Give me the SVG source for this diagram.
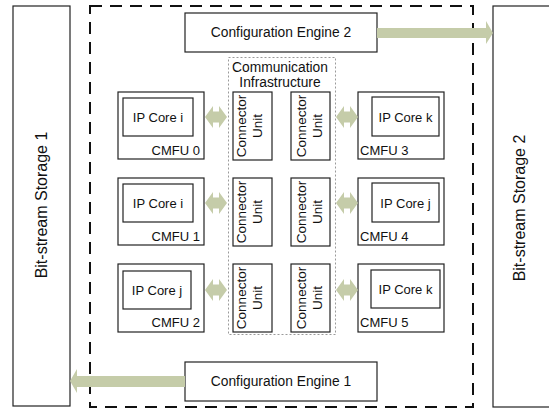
<svg xmlns="http://www.w3.org/2000/svg" width="549" height="409" viewBox="0 0 549 409">
  <defs>
    <style>
      .box { fill: #fff; stroke: #222; stroke-width: 1.2; }
      .frame { fill: none; stroke: #111; stroke-width: 2; stroke-dasharray: 12 8; }
      .infra { fill: none; stroke: #9a9a9a; stroke-width: 1; stroke-dasharray: 2 2; }
      .flow { fill: #c5cca9; stroke: none; }
      text { font-family: "Liberation Sans", Arial, sans-serif; fill: #111; }
      .t13 { font-size: 13px; }
      .cu { font-size: 13.5px; text-anchor: middle; }
      .t14 { font-size: 13.8px; }
      .t16 { font-size: 16px; }
      .mid { text-anchor: middle; }
    </style>
    <!-- double-headed link between a CMFU and its connector unit, centred at origin -->
    <path id="dbl" class="flow" d="M-11,0 L-3,-11 L-3,-5.5 L3,-5.5 L3,-11 L11,0 L3,11 L3,5.5 L-3,5.5 L-3,11 Z"/>
  </defs>

  <rect width="549" height="409" fill="#fff"/>

  <!-- bit-stream storages -->
  <g id="storage1">
    <rect class="box" x="13" y="6" width="57" height="400"/>
    <text class="t16 mid" transform="translate(47,205) rotate(-90)">Bit-stream Storage 1</text>
  </g>
  <g id="storage2">
    <rect class="box" x="493" y="6" width="60" height="401"/>
    <text class="t16 mid" transform="translate(525,208) rotate(-90)">Bit-stream Storage 2</text>
  </g>

  <!-- reconfigurable region -->
  <rect id="region" class="frame" x="90" y="6" width="383" height="401"/>

  <!-- communication infrastructure -->
  <g id="infra">
    <rect class="infra" x="228.5" y="57.5" width="107" height="277"/>
    <text class="t14 mid" x="280" y="72">Communication</text>
    <text class="t14 mid" x="280" y="87">Infrastructure</text>
  </g>

  <!-- configuration engines -->
  <g id="engine2">
    <rect class="box" x="185" y="13" width="192" height="39"/>
    <text class="t14 mid" x="281" y="37">Configuration Engine 2</text>
  </g>
  <g id="engine1">
    <rect class="box" x="185" y="362" width="192" height="39"/>
    <text class="t14 mid" x="281" y="386">Configuration Engine 1</text>
  </g>

  <!-- CMFUs, left column -->
  <g id="cmfu0">
    <rect class="box" x="118" y="92" width="86" height="67"/>
    <rect class="box" x="123" y="98" width="70" height="38"/>
    <text class="t13 mid" x="158" y="122">IP Core i</text>
    <text class="t13" x="200" y="155" text-anchor="end">CMFU 0</text>
  </g>
  <g id="cmfu1">
    <rect class="box" x="118" y="178" width="86" height="67"/>
    <rect class="box" x="123" y="184" width="70" height="38"/>
    <text class="t13 mid" x="158" y="208">IP Core i</text>
    <text class="t13" x="200" y="241" text-anchor="end">CMFU 1</text>
  </g>
  <g id="cmfu2">
    <rect class="box" x="118" y="264" width="86" height="68"/>
    <rect class="box" x="123" y="271" width="68" height="38"/>
    <text class="t13 mid" x="157" y="295">IP Core j</text>
    <text class="t13" x="200" y="327" text-anchor="end">CMFU 2</text>
  </g>

  <!-- CMFUs, right column -->
  <g id="cmfu3">
    <rect class="box" x="358" y="92" width="86" height="67"/>
    <rect class="box" x="372" y="97" width="67" height="39"/>
    <text class="t13 mid" x="405.5" y="122">IP Core k</text>
    <text class="t13" x="360" y="155">CMFU 3</text>
  </g>
  <g id="cmfu4">
    <rect class="box" x="358" y="178" width="86" height="67"/>
    <rect class="box" x="372" y="183" width="67" height="39"/>
    <text class="t13 mid" x="405.5" y="208">IP Core j</text>
    <text class="t13" x="360" y="241">CMFU 4</text>
  </g>
  <g id="cmfu5">
    <rect class="box" x="358" y="264" width="86" height="68"/>
    <rect class="box" x="371" y="270" width="69" height="38"/>
    <text class="t13 mid" x="405.5" y="294">IP Core k</text>
    <text class="t13" x="360" y="327">CMFU 5</text>
  </g>

  <!-- connector units -->
  <g id="cu0">
    <rect class="box" x="233" y="92" width="39" height="68"/>
    <text class="cu" transform="translate(246,126) rotate(-90)">Connector</text>
    <text class="cu" transform="translate(262,126) rotate(-90)">Unit</text>
  </g>
  <g id="cu1">
    <rect class="box" x="233" y="178" width="39" height="68"/>
    <text class="cu" transform="translate(246,212) rotate(-90)">Connector</text>
    <text class="cu" transform="translate(262,212) rotate(-90)">Unit</text>
  </g>
  <g id="cu2">
    <rect class="box" x="233" y="264" width="39" height="68"/>
    <text class="cu" transform="translate(246,298) rotate(-90)">Connector</text>
    <text class="cu" transform="translate(262,298) rotate(-90)">Unit</text>
  </g>
  <g id="cu3">
    <rect class="box" x="291" y="92" width="39" height="68"/>
    <text class="cu" transform="translate(306,126) rotate(-90)">Connector</text>
    <text class="cu" transform="translate(321.5,126) rotate(-90)">Unit</text>
  </g>
  <g id="cu4">
    <rect class="box" x="291" y="178" width="39" height="68"/>
    <text class="cu" transform="translate(306,212) rotate(-90)">Connector</text>
    <text class="cu" transform="translate(321.5,212) rotate(-90)">Unit</text>
  </g>
  <g id="cu5">
    <rect class="box" x="291" y="264" width="39" height="68"/>
    <text class="cu" transform="translate(306,298) rotate(-90)">Connector</text>
    <text class="cu" transform="translate(321.5,298) rotate(-90)">Unit</text>
  </g>

  <!-- connectors -->
  <g id="connectors">
    <use href="#dbl" x="216" y="117"/>
    <use href="#dbl" x="216" y="203"/>
    <use href="#dbl" x="216" y="290"/>
    <use href="#dbl" x="347" y="117"/>
    <use href="#dbl" x="347" y="203"/>
    <use href="#dbl" x="347" y="290"/>
    <!-- engine 2 to storage 2 -->
    <path class="flow" d="M377,28 L486,28 L486,21 L493,33 L486,44 L486,38 L377,38 Z"/>
    <!-- engine 1 to storage 1 -->
    <path class="flow" d="M185,376 L77,376 L77,369 L70,381 L77,393 L77,387 L185,387 Z"/>
  </g>
</svg>
